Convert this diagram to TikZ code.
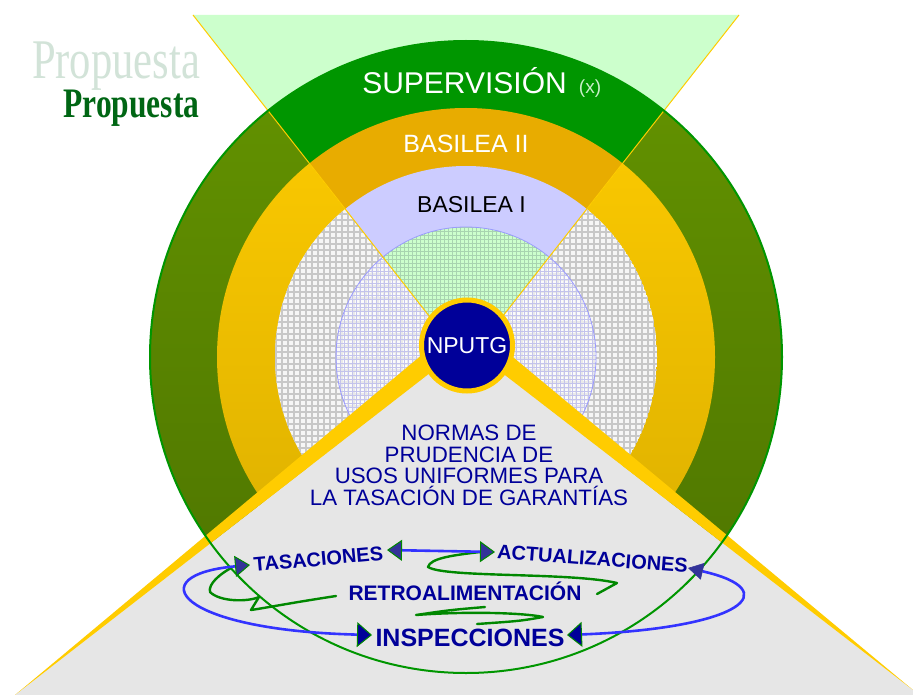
\documentclass[tikz,border=0pt]{standalone}
\usepackage{fontspec}
\setmainfont{Liberation Sans}
\newfontfamily\propfont{Liberation Serif}
\usetikzlibrary{arrows.meta}
\definecolor{lightgreen}{HTML}{CCFFCC}
\definecolor{supgreen}{HTML}{009600}
\definecolor{olivetop}{HTML}{649400}
\definecolor{olivebot}{HTML}{4C7200}
\definecolor{yeltop}{HTML}{FCCA00}
\definecolor{yelbot}{HTML}{DAAE00}
\definecolor{bastwo}{HTML}{E8AC00}
\definecolor{basone}{HTML}{CCCCFF}
\definecolor{gridgrey}{HTML}{C8C8C8}
\definecolor{hatchbg}{HTML}{F6F6F6}
\definecolor{innerline}{HTML}{9999FF}
\definecolor{innergrid}{HTML}{C4C4EC}
\definecolor{topgrid}{HTML}{A8D4B0}
\definecolor{navy}{HTML}{000099}
\definecolor{gold}{HTML}{FFCC00}
\definecolor{greyzone}{HTML}{E6E6E6}
\definecolor{loopblue}{HTML}{3333FF}
\definecolor{squiggle}{HTML}{008800}
\definecolor{tipfillA}{HTML}{333399}
\definecolor{propA}{HTML}{D2E3D8}
\definecolor{propB}{HTML}{006614}
\definecolor{xcol}{HTML}{C8F0C8}
\begin{document}
\begin{tikzpicture}[x=1pt,y=-1pt,
  lbl/.style={inner sep=0pt,anchor=base},
  normtext/.style={lbl,text=navy,font=\fontsize{22.3}{26}\selectfont},
  cycletext/.style={lbl,text=navy,font=\bfseries\fontsize{#1}{#1}\selectfont},
  blueline/.style={draw=loopblue,line width=2.6pt},
  squig/.style={draw=squiggle,line width=2.4pt,line join=round,line cap=round},
  outergrid/.style={draw=gridgrey,line width=1.5pt},
  finegrid/.style={line width=0.6pt},
  tipA/.tip={Triangle[length=15pt,width=21pt,fill=tipfillA,color=squiggle,line width=1pt]},
  tipS/.tip={Triangle[length=15pt,width=17pt,fill=tipfillA,color=tipfillA,line width=0.6pt]},
  tipN/.tip={Triangle[length=15pt,width=25pt,fill=navy,color=squiggle,line width=1pt]}
]
\useasboundingbox (0,0) rectangle (913,695);
\clip (0,0) rectangle (913,695);
\fill[white] (0,0) rectangle (913,695);
\coordinate (C) at (466,357);
\coordinate (apex) at (466,363);
\coordinate (TL) at (193,15);
\coordinate (TR) at (739,15);
% top triangle
\fill[lightgreen] (TL) -- (TR) -- (apex) -- cycle;
% rings (side sectors)
\shade[top color=olivetop,bottom color=olivebot] (C) circle[radius=316];
\shade[top color=yeltop,bottom color=yelbot] (C) circle[radius=249];
\begin{scope}
  \clip (C) circle[radius=191];
  \fill[hatchbg] (C) circle[radius=191];
  \foreach \k in {0,...,66} {
    \draw[outergrid] (270+6*\k,160) -- (270+6*\k,556);
    \draw[outergrid] (270,160+6*\k) -- (666,160+6*\k);
  }
\end{scope}
\begin{scope}
  \clip (C) circle[radius=130];
  \fill[white,fill opacity=0.6] (C) circle[radius=130];
  \foreach \k in {0,...,67} {
    \draw[finegrid,innergrid] (332+4*\k,223) -- (332+4*\k,492);
    \draw[finegrid,innergrid] (332,223+4*\k) -- (601,223+4*\k);
  }
\end{scope}
% top sector
\begin{scope}
  \clip (TL) -- (TR) -- (apex) -- cycle;
  \fill[supgreen] (C) circle[radius=316];
  \fill[bastwo] (C) circle[radius=249];
  \fill[basone] (C) circle[radius=191];
  \clip (C) circle[radius=130];
  \fill[lightgreen] (C) circle[radius=130];
  \foreach \k in {0,...,67} {
    \draw[finegrid,topgrid] (332+4*\k,223) -- (332+4*\k,492);
    \draw[finegrid,topgrid] (332,223+4*\k) -- (601,223+4*\k);
  }
\end{scope}
\draw[innerline,line width=0.8pt] (C) circle[radius=130];
\draw[gold,line width=1pt] (TL) -- (apex) -- (TR);
% bottom grey zone and yellow wedges
\fill[greyzone] (466,345) -- (15,695) -- (913,695) -- (913,690) -- cycle;
\fill[gold] (15,695) -- (466,318) -- (466,345) -- cycle;
\fill[gold] (913,690) -- (466,318) -- (466,345) -- cycle;
% outer circle outline
\draw[supgreen,line width=2pt] (C) circle[radius=316];
% centre
\node[circle,fill=navy,draw=gold,line width=5pt,minimum size=91pt,inner sep=0pt,text=white,font=\fontsize{23}{27}\selectfont] (nputg) at (467,345.5) {NPUTG};
% ring labels
\node[lbl,text=white,font=\fontsize{30}{36}\selectfont] (sup) at (464.5,94) {SUPERVISIÓN};
\node[lbl,text=xcol,font=\fontsize{19}{22}\selectfont] (xnote) at (590,94) {(x)};
\node[lbl,text=white,font=\fontsize{25}{30}\selectfont] (bastwolbl) at (466,153) {BASILEA II};
\node[lbl,text=black,font=\fontsize{23}{28}\selectfont] (basonelbl) at (471.5,213) {BASILEA I};
% Propuesta
\node[lbl,text=propA,font=\propfont\fontsize{56}{60}\selectfont] (prop1) at (116,79) {\scalebox{0.76}[1]{Propuesta}};
\node[lbl,text=propB,font=\propfont\bfseries\fontsize{42}{46}\selectfont] (prop2) at (131.5,118) {\scalebox{0.75}[1]{Propuesta}};
% norms text
\node[normtext] (norm1) at (469,440) {NORMAS DE};
\node[normtext] (norm2) at (469,462) {PRUDENCIA DE};
\node[normtext] (norm3) at (469,483.5) {USOS UNIFORMES PARA};
\node[normtext] (norm4) at (469,505) {LA TASACIÓN DE GARANTÍAS};
% cycle labels
\node[cycletext=20,rotate=5.3] (tas) at (319,566) {TASACIONES};
\node[cycletext=20,rotate=-4.5] (act) at (592,565.5) {ACTUALIZACIONES};
\node[cycletext=21] (retro) at (465,600) {RETROALIMENTACIÓN};
\node[cycletext=25] (insp) at (470,646) {INSPECCIONES};
% arrow end points
\coordinate (tasTip) at (387,550);
\coordinate (actTip) at (495,552);
\coordinate (tasLoop) at (250,565);
\coordinate (inspL) at (372,635);
\coordinate (actLoop) at (688,568);
\coordinate (inspR) at (567,635);
% green squiggles
\draw[squig] (336,596) .. controls (290,603) and (265,608) .. (251,610) -- (259,597)
   .. controls (248,602) and (220,602) .. (210,592) .. controls (208,584) and (220,574) .. (231,568);
\draw[squig] (597,594) -- (617,583) .. controls (570,572) and (445,578) .. (428,567)
   .. controls (430,558) and (455,555) .. (480,552);
\draw[squig] (485,607) .. controls (450,610) .. (416,615) .. controls (470,611) and (525,613) .. (543,617)
   .. controls (520,621) .. (477,624);
% blue arrows
\draw[blueline,arrows={tipA-tipA}] (tasTip) -- (actTip);
\draw[blueline,arrows={tipA-tipN}] (tasLoop) .. controls (140,575) and (175,630) .. (inspL);
\draw[blueline,arrows={tipS-tipN}] (actLoop) .. controls (785,590) and (745,628) .. (inspR);
\end{tikzpicture}
\end{document}
